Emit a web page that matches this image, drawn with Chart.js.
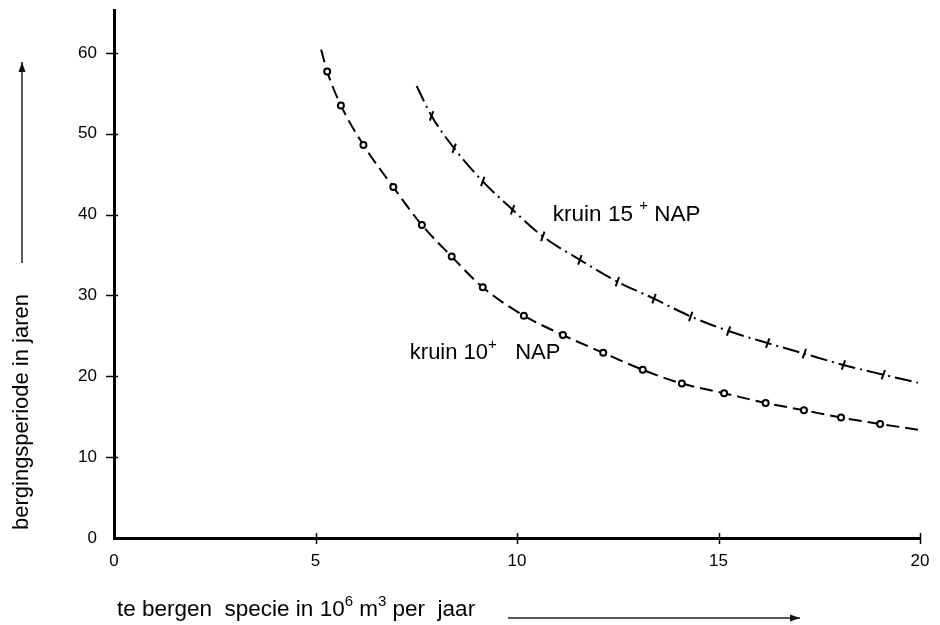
<!DOCTYPE html>
<html>
<head>
<meta charset="utf-8">
<title>Bergingsperiode</title>
<script src="https://cdn.jsdelivr.net/npm/chart.js@4.4.1/dist/chart.umd.min.js"></script>
<style>
    html, body { margin: 0; padding: 0; background: #fff; }
    #chart { display: block; }
</style>
</head>
<body>
<canvas id="chart" width="940" height="625"></canvas>
<script>
// kruin 10+ NAP: curve start, measured points (circles), curve end
const low10X = [5.14, 5.29, 5.63, 6.19, 6.93, 7.64, 8.38, 9.15, 10.17, 11.14, 12.14, 13.12, 14.09, 15.14, 16.17, 17.12, 18.04, 19.01, 19.95];
const low10Y = [60.4, 57.7, 53.5, 48.6, 43.4, 38.7, 34.8, 31.0, 27.5, 25.1, 22.9, 20.8, 19.1, 17.9, 16.7, 15.8, 14.9, 14.1, 13.4];

// kruin 15+ NAP: curve start, measured points (ticks), curve end
const high15X = [7.51, 7.88, 8.44, 9.15, 9.89, 10.64, 11.56, 12.49, 13.40, 14.31, 15.25, 16.22, 17.13, 18.10, 19.09, 19.95];
const high15Y = [55.9, 52.2, 48.2, 44.1, 40.6, 37.3, 34.4, 31.7, 29.6, 27.4, 25.6, 24.1, 22.8, 21.4, 20.2, 19.2];

const xTicks = [0, 5, 10, 15, 20];
const yTicks = [0, 10, 20, 30, 40, 50, 60];

const FONT = '"Liberation Sans", Arial, Helvetica, sans-serif';

function toPoints(xs, ys) {
    return xs.map((x, i) => ({ x: x, y: ys[i] }));
}

// markers only on the measured points, not on the curve ends
function markerRadius(n, r) {
    return Array.from({ length: n }, (_, i) => (i === 0 || i === n - 1) ? 0 : r);
}

// draws a run of text pieces, some raised as superscripts
function drawRich(ctx, x, y, parts, size) {
    let cx = x;
    parts.forEach(p => {
        const s = p.sup ? Math.round(size * 0.66) : size;
        ctx.font = s + 'px ' + FONT;
        ctx.fillText(p.t, cx, p.sup ? y - size * 0.38 : y);
        cx += ctx.measureText(p.t).width;
    });
}

function arrow(ctx, x1, y1, x2, y2) {
    const a = Math.atan2(y2 - y1, x2 - x1);
    ctx.beginPath();
    ctx.moveTo(x1, y1);
    ctx.lineTo(x2, y2);
    ctx.stroke();
    ctx.beginPath();
    ctx.moveTo(x2, y2);
    ctx.lineTo(x2 - 10 * Math.cos(a) + 3.5 * Math.sin(a), y2 - 10 * Math.sin(a) - 3.5 * Math.cos(a));
    ctx.lineTo(x2 - 10 * Math.cos(a) - 3.5 * Math.sin(a), y2 - 10 * Math.sin(a) + 3.5 * Math.cos(a));
    ctx.closePath();
    ctx.fill();
}

const decorations = {
    id: 'decorations',
    afterDraw(chart) {
        const ctx = chart.ctx;
        const xs = chart.scales.x;
        const ys = chart.scales.y;
        const area = chart.chartArea;
        ctx.save();
        ctx.strokeStyle = '#000';
        ctx.fillStyle = '#000';

        // tick marks crossing the axes
        ctx.lineWidth = 1.5;
        yTicks.forEach(v => {
            const py = Math.round(ys.getPixelForValue(v)) + 0.5;
            if (v === 0) return;
            ctx.beginPath();
            ctx.moveTo(area.left - 8, py);
            ctx.lineTo(area.left + 4, py);
            ctx.stroke();
        });
        xTicks.forEach(v => {
            const px = Math.round(xs.getPixelForValue(v)) + 0.5;
            if (v === 0) return;
            ctx.beginPath();
            ctx.moveTo(px, area.bottom - 5);
            ctx.lineTo(px, area.bottom + 6);
            ctx.stroke();
        });

        // curve labels
        ctx.textBaseline = 'middle';
        ctx.textAlign = 'left';
        drawRich(ctx, xs.getPixelForValue(7.34), ys.getPixelForValue(22.9),
            [{ t: 'kruin 10' }, { t: '+', sup: true }, { t: '   NAP' }], 22);
        drawRich(ctx, xs.getPixelForValue(10.89), ys.getPixelForValue(40.0),
            [{ t: 'kruin 15 ' }, { t: '+', sup: true }, { t: ' NAP' }], 22.5);

        // x axis title with arrow
        drawRich(ctx, 117, 610,
            [{ t: 'te bergen  specie in 10' }, { t: '6', sup: true }, { t: ' m' }, { t: '3', sup: true }, { t: ' per  jaar' }], 22.5);
        ctx.lineWidth = 1.5;
        ctx.strokeStyle = '#222';
        ctx.fillStyle = '#111';
        arrow(ctx, 508, 618, 800, 618);

        // y axis title with arrow
        ctx.save();
        ctx.translate(22, 412);
        ctx.rotate(-Math.PI / 2);
        ctx.textAlign = 'center';
        ctx.fillStyle = '#000';
        ctx.font = '22px ' + FONT;
        ctx.fillText('bergingsperiode in jaren', 0, 0);
        ctx.restore();
        arrow(ctx, 22, 263, 22, 62);

        ctx.restore();
    }
};

new Chart(document.getElementById('chart'), {
    type: 'scatter',
    data: {
        datasets: [{
            label: 'kruin 10+ NAP',
            data: toPoints(low10X, low10Y),
            showLine: true,
            cubicInterpolationMode: 'monotone',
            borderColor: '#000',
            borderWidth: 2,
            borderDash: [13, 6],
            pointStyle: 'circle',
            pointRadius: markerRadius(low10X.length, 3),
            pointBorderWidth: 2,
            pointBorderColor: '#000',
            pointBackgroundColor: '#fff'
        }, {
            label: 'kruin 15+ NAP',
            data: toPoints(high15X, high15Y),
            showLine: true,
            cubicInterpolationMode: 'monotone',
            borderColor: '#000',
            borderWidth: 2,
            borderDash: [17, 5, 2, 5],
            pointStyle: 'line',
            pointRotation: -70,
            pointRadius: markerRadius(high15X.length, 5),
            pointBorderWidth: 2,
            pointBorderColor: '#000',
            pointBackgroundColor: '#000'
        }]
    },
    options: {
        responsive: false,
        animation: false,
        devicePixelRatio: 1,
        layout: { padding: { left: 0, right: 20, top: 10, bottom: 0 } },
        plugins: {
            legend: { display: false },
            tooltip: { enabled: false }
        },
        scales: {
            x: {
                type: 'linear',
                min: 0,
                max: 20,
                grid: { display: false, drawTicks: false },
                border: { display: true, color: '#000', width: 3 },
                afterBuildTicks: axis => { axis.ticks = xTicks.map(v => ({ value: v })); },
                afterFit: axis => { axis.height = 87; axis.paddingLeft = 0; axis.paddingRight = 0; },
                ticks: {
                    padding: 13,
                    color: '#000',
                    font: { family: FONT, size: 17 },
                    maxRotation: 0
                }
            },
            y: {
                type: 'linear',
                min: 0,
                max: 65.3,
                grid: { display: false, drawTicks: false },
                border: { display: true, color: '#000', width: 3 },
                afterBuildTicks: axis => { axis.ticks = yTicks.map(v => ({ value: v })); },
                afterFit: axis => { axis.width = 114; axis.paddingTop = 0; axis.paddingBottom = 0; },
                ticks: {
                    padding: 17,
                    color: '#000',
                    font: { family: FONT, size: 17 }
                }
            }
        }
    },
    plugins: [decorations]
});
</script>
</body>
</html>
